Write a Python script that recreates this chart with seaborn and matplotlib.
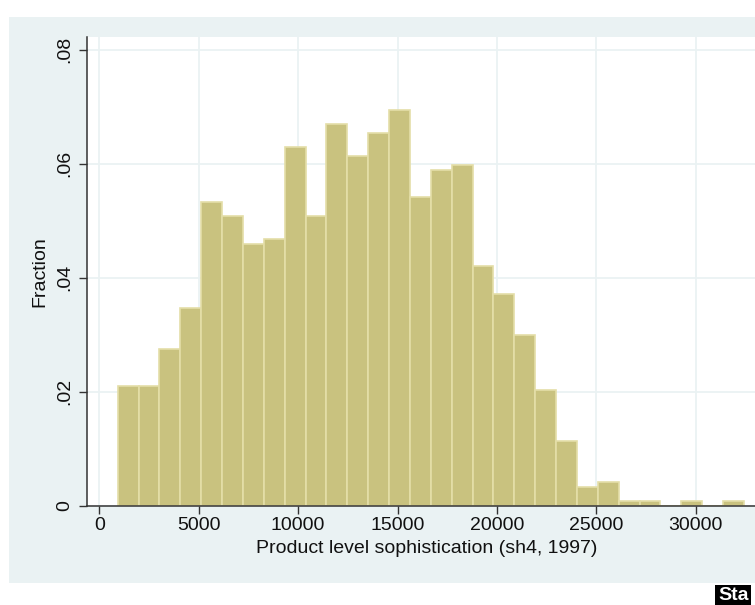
import numpy as np
import pandas as pd
import matplotlib
matplotlib.use("Agg")
import matplotlib.pyplot as plt
from matplotlib.patches import Rectangle
import seaborn as sns

# ---- data ----
bin_start = 925.0
bin_width = 1050.0
fractions = [0.0211, 0.0211, 0.0275, 0.0347, 0.0533, 0.0509, 0.0460, 0.0468,
             0.0629, 0.0509, 0.0670, 0.0613, 0.0653, 0.0694, 0.0541, 0.0589,
             0.0597, 0.0420, 0.0372, 0.0300, 0.0203, 0.0114, 0.0034, 0.0042,
             0.00095, 0.00095, 0.0, 0.00095, 0.0, 0.00095]
x_ticks = [0, 5000, 10000, 15000, 20000, 25000, 30000]
y_ticks = [0, 0.02, 0.04, 0.06, 0.08]
y_tick_labels = ["0", ".02", ".04", ".06", ".08"]
x_label = "Product level sophistication (sh4, 1997)"
y_label = "Fraction"

n_bins = len(fractions)
edges = bin_start + bin_width * np.arange(n_bins + 1)
centers = (edges[:-1] + edges[1:]) / 2
df = pd.DataFrame({"value": centers, "fraction": fractions})

sns.set_theme(style="white")
plt.rcParams["font.family"] = ["Liberation Sans", "DejaVu Sans"]

W, H = 755, 605
fig = plt.figure(figsize=(W / 100, H / 100), dpi=100)
fig.patch.set_facecolor("white")

panel = "#EAF2F3"
fig.patches.append(Rectangle((9 / W, (H - 583) / H), 1 - 9 / W, (583 - 17) / H,
                             transform=fig.transFigure, facecolor=panel,
                             edgecolor="none", zorder=-5))

ax = fig.add_axes([86.7 / W, (H - 506) / H, 1 - 86.7 / W, (506 - 37) / H])
ax.set_zorder(5)
ax.set_facecolor("white")

sns.histplot(data=df, x="value", weights="fraction", binwidth=bin_width,
             binrange=(float(edges[0]), float(edges[-1])), stat="count",
             color="#C9C27F", edgecolor="#E4DEA8", linewidth=1.2, alpha=1.0,
             ax=ax, zorder=3)

ax.set_xlim(-634, -634 + (W - 86.7) / 19.88 * 1000)
ax.set_ylim(0, 0.0822)
ax.set_xticks(x_ticks)
ax.set_xticklabels([str(t) for t in x_ticks], fontsize=14, color="#111111")
ax.set_yticks(y_ticks)
ax.set_yticklabels(y_tick_labels, fontsize=14, rotation=90, va="center",
                   color="#111111")
ax.grid(True, color=panel, linewidth=1.3, zorder=0)
ax.set_axisbelow(True)

for s in ["top", "right"]:
    ax.spines[s].set_visible(False)
for s in ["left", "bottom"]:
    ax.spines[s].set_color("#333333")
    ax.spines[s].set_linewidth(1.1)
    ax.spines[s].set_zorder(5)

ax.tick_params(axis="both", which="major", direction="out", length=5.5,
               width=1.0, color="#333333", left=True, bottom=True)
ax.tick_params(axis="x", pad=2.5)
ax.tick_params(axis="y", pad=4)

ax.set_xlabel(x_label, fontsize=14, color="#111111")
ax.xaxis.set_label_coords((426.7 - 86.7) / (W - 86.7), -(540 - 506) / (506 - 37),
                          transform=ax.transAxes)
ax.xaxis.label.set_va("top")
ax.set_ylabel(y_label, fontsize=14, color="#111111", labelpad=6)

# Stata logo fragment at bottom right
fig.text(718 / W, (H - 596) / H, "Sta", fontsize=14, fontweight="bold",
         color="white", ha="left", va="center",
         bbox=dict(boxstyle="square,pad=0.15", facecolor="black",
                   edgecolor="none"))

fig.savefig("out.png", dpi=100)
